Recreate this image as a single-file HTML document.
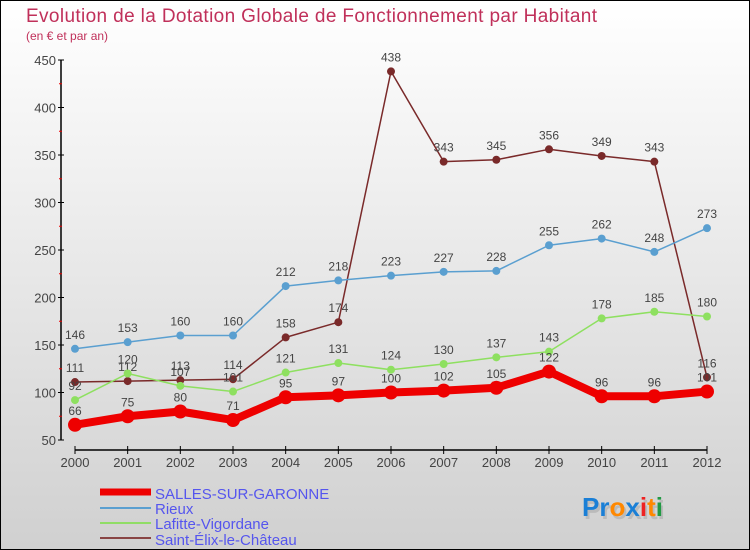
<!DOCTYPE html>
<html><head><meta charset="utf-8"><style>
body{margin:0;width:750px;height:550px;overflow:hidden}
svg{display:block;font-family:"Liberation Sans",sans-serif}
</style></head><body>
<svg id="c" width="750" height="550">
<defs><linearGradient id="bg" x1="0" y1="0" x2="0" y2="1"><stop offset="0" stop-color="#ffffff"/><stop offset="1" stop-color="#d0d0d0"/></linearGradient></defs>
<rect x="0.5" y="0.5" width="749" height="549" fill="url(#bg)" stroke="#000"/>
<text x="26" y="22" font-size="19" textLength="571" fill="#c0305a">Evolution de la Dotation Globale de Fonctionnement par Habitant</text>
<text x="26" y="40" font-size="12" fill="#c0305a">(en € et par an)</text>
<g id="axes"></g><g id="series"></g>
<g>
<line x1="100" y1="492" x2="151" y2="492" stroke="#ee0000" stroke-width="7"/>
<text x="155" y="499" font-size="15" fill="#5555ee">SALLES-SUR-GARONNE</text>
<line x1="100" y1="508" x2="151" y2="508" stroke="#5a9fd0" stroke-width="2"/>
<text x="155" y="514" font-size="15" fill="#5555ee">Rieux</text>
<line x1="100" y1="523" x2="151" y2="523" stroke="#90dd66" stroke-width="2"/>
<text x="155" y="529" font-size="15" fill="#5555ee">Lafitte-Vigordane</text>
<line x1="100" y1="538" x2="151" y2="538" stroke="#884444" stroke-width="2"/>
<text x="155" y="545" font-size="15" fill="#5555ee">Saint-Élix-le-Château</text>
</g>
<g font-size="26" font-weight="bold">
<text x="584" y="519" fill="#bbb">Proxiti</text>
<text x="582" y="516"><tspan fill="#1a7fd6">Pr</tspan><tspan fill="#ff8800">o</tspan><tspan fill="#1a7fd6">x</tspan><tspan fill="#ee2222">i</tspan><tspan fill="#ff8800">t</tspan><tspan fill="#229944">i</tspan></text>
</g>
</svg>
<script>
const years=[2000,2001,2002,2003,2004,2005,2006,2007,2008,2009,2010,2011,2012];
const yTicks=[50,100,150,200,250,300,350,400,450];
const salles=[66,75,80,71,95,97,100,102,105,122,96,96,101];
const rieux=[146,153,160,160,212,218,223,227,228,255,262,248,273];
const lafitte=[92,120,107,101,121,131,124,130,137,143,178,185,180];
const saintElix=[111,112,113,114,158,174,438,343,345,356,349,343,116];
const NS='http://www.w3.org/2000/svg';
const X=i=>75+i*(707-75)/12;
const Y=v=>440-(v-50)*0.95;
function mk(p,t,a){const e=document.createElementNS(NS,t);for(const k in a)e.setAttribute(k,a[k]);p.appendChild(e);return e;}
const ax=document.getElementById('axes');
let e=mk(ax,'line',{x1:61,y1:60,x2:61,y2:440,stroke:'#000','stroke-width':1.5});


yTicks.forEach(v=>{
 mk(ax,'line',{x1:58,y1:Y(v),x2:64,y2:Y(v),stroke:'#000'});
 if(v<450)mk(ax,'line',{x1:59,y1:Y(v+25),x2:62,y2:Y(v+25),stroke:'#e00'});
 const t=mk(ax,'text',{x:56,y:Y(v)+5,'font-size':13,fill:'#444','text-anchor':'end'});t.textContent=v;
 
 
});
e=mk(ax,'line',{x1:75,y1:450,x2:707,y2:450,stroke:'#000','stroke-width':1.5});


years.forEach((y,i)=>{
 mk(ax,'line',{x1:X(i),y1:446,x2:X(i),y2:454,stroke:'#000'});
 const t=mk(ax,'text',{x:X(i),y:467,'font-size':13,fill:'#444','text-anchor':'middle'});t.textContent=y;
 
 
});
const sg=document.getElementById('series');
function draw(data,col,w,r,name){
 const g=mk(sg,'g',{});
 
 
 const pl=mk(g,'polyline',{points:data.map((v,i)=>X(i)+','+Y(v)).join(' '),fill:'none',stroke:col,'stroke-width':w,'stroke-linejoin':'round'});
 
 
 data.forEach((v,i)=>{
  const c=mk(g,'circle',{cx:X(i),cy:Y(v),r:r,fill:col});
  
  
  const t=mk(g,'text',{x:X(i),y:Y(v)-10,'font-size':12,fill:'#444','text-anchor':'middle'});t.textContent=v;
  
  
 });
}
draw(saintElix,'#7a2a2a',1.5,4,'saint-elix');
draw(lafitte,'#8ee060',1.5,4,'lafitte');
draw(rieux,'#5a9fd0',1.5,4,'rieux');
draw(salles,'#ee0000',8,7,'salles');
</script>
</body></html>
